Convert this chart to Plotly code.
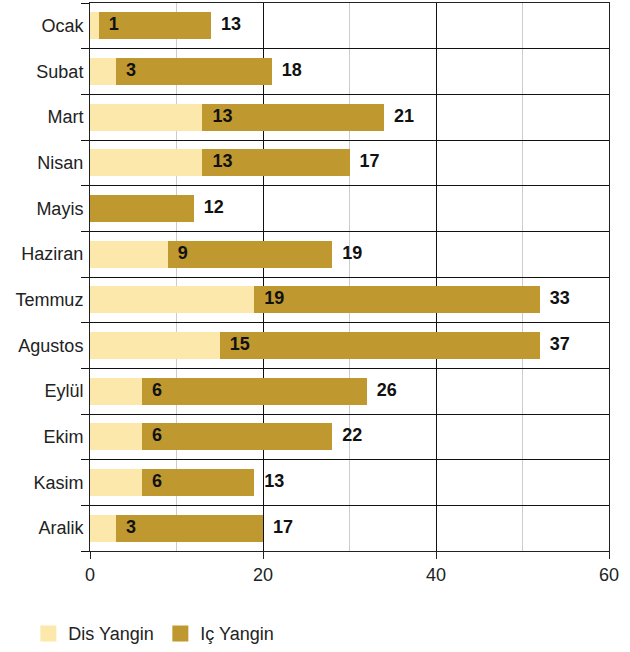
import plotly.graph_objects as go

months = ["Ocak", "Subat", "Mart", "Nisan", "Mayis", "Haziran", "Temmuz",
          "Agustos", "Eylül", "Ekim", "Kasim", "Aralik"]
dis_yangin = [1, 3, 13, 13, 0, 9, 19, 15, 6, 6, 6, 3]
ic_yangin = [13, 18, 21, 17, 12, 19, 33, 37, 26, 22, 13, 17]
x_ticks = [0, 20, 40, 60]

DIS_COLOR = "#FDE8AC"
IC_COLOR = "#BF9930"
FONT = "Liberation Sans, Arial, sans-serif"
FS = 18

idx = list(range(len(months)))
totals = [d + i for d, i in zip(dis_yangin, ic_yangin)]

fig = go.Figure()
fig.add_trace(go.Bar(y=idx, x=dis_yangin, orientation="h", marker_color=DIS_COLOR,
                     marker_line_width=0, width=0.59, name="Dis Yangin",
                     showlegend=False, hoverinfo="skip"))
fig.add_trace(go.Bar(y=idx, x=ic_yangin, orientation="h", marker_color=IC_COLOR,
                     marker_line_width=0, width=0.59, name="Iç Yangin",
                     showlegend=False, hoverinfo="skip"))
# value labels
fig.add_trace(go.Scatter(x=dis_yangin, y=idx, mode="text",
                         text=[f"  {v}" if v else "" for v in dis_yangin],
                         textposition="middle right",
                         textfont=dict(family=FONT, size=FS, color="#111111", weight="bold"),
                         showlegend=False, hoverinfo="skip", cliponaxis=False))
fig.add_trace(go.Scatter(x=totals, y=idx, mode="text",
                         text=[f"  {v}" for v in ic_yangin],
                         textposition="middle right",
                         textfont=dict(family=FONT, size=FS, color="#111111", weight="bold"),
                         showlegend=False, hoverinfo="skip", cliponaxis=False))
# legend entries
for name, col in [("Dis Yangin", DIS_COLOR), ("Iç Yangin", IC_COLOR)]:
    fig.add_trace(go.Scatter(x=[None], y=[None], mode="markers", name=name,
                             marker=dict(symbol="square", size=18, color=col)))

fig.update_layout(
    barmode="stack",
    width=630, height=652,
    margin=dict(l=90, r=21, t=3, b=101),
    plot_bgcolor="white", paper_bgcolor="white",
    font=dict(family=FONT, size=FS, color="#222222"),
    legend=dict(orientation="h", xref="container", yref="container",
                x=0.045, y=0.028, xanchor="left", yanchor="middle",
                traceorder="normal", entrywidth=87,
                font=dict(size=FS, color="#222222"), itemsizing="trace"),
    xaxis=dict(range=[0, 60], tickvals=x_ticks, ticks="outside", ticklen=7,
               tickcolor="#222222", showgrid=True, gridcolor="#111111", gridwidth=1,
               minor=dict(dtick=10, showgrid=True, gridcolor="#cccccc", gridwidth=1),
               showline=True, linecolor="#222222", mirror=True, zeroline=False,
               tickfont=dict(size=FS)),
    yaxis=dict(range=[len(months) - 0.5, -0.5], tickvals=idx, ticktext=months,
               ticks="", showgrid=False, zeroline=False,
               showline=True, linecolor="#222222", mirror=True,
               minor=dict(tickvals=[i - 0.5 for i in range(len(months) + 1)],
                          ticks="outside", ticklen=8, tickcolor="#111111",
                          showgrid=True, gridcolor="#111111", gridwidth=1),
               ticklabelstandoff=2, tickfont=dict(size=FS)),
)

fig.write_html("out.html", post_script="document.body.style.margin='0';",
               config={"displayModeBar": False})
